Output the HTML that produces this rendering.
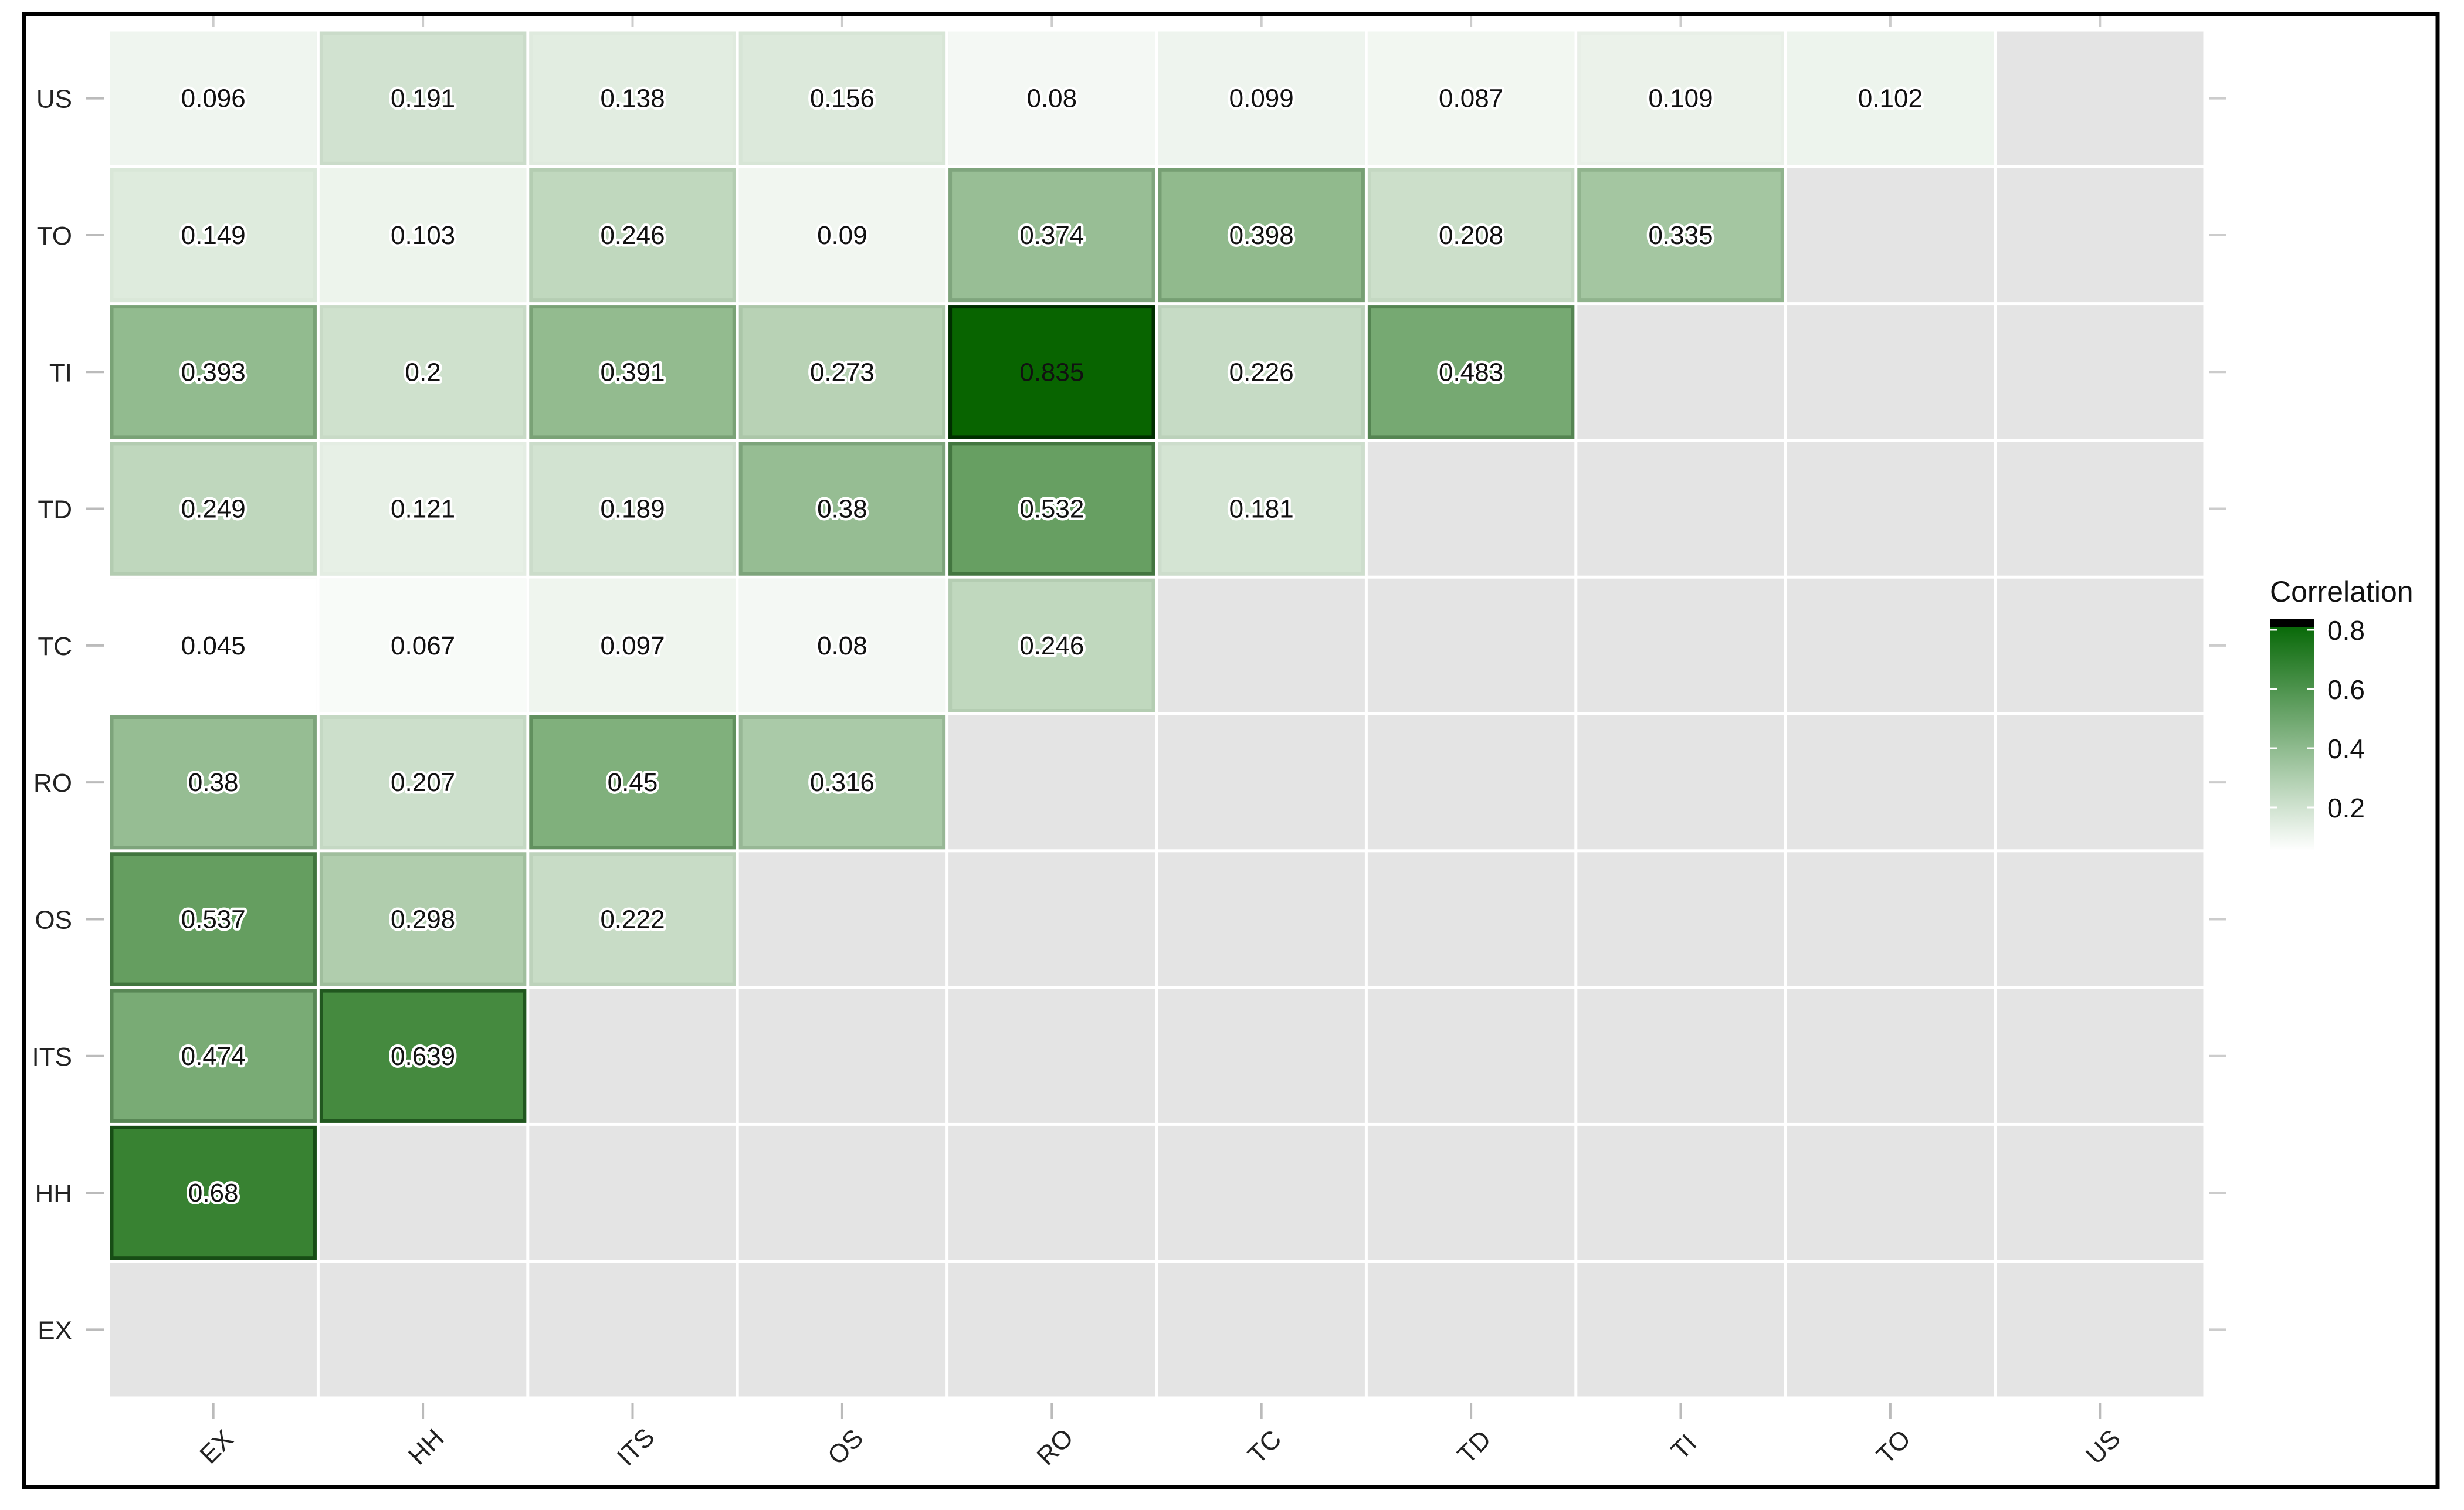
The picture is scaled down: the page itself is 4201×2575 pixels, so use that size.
<!DOCTYPE html>
<html><head><meta charset="utf-8"><style>
html,body{margin:0;padding:0;background:#fff;}
svg{display:block;}
text{font-family:"Liberation Sans",sans-serif;}
</style></head><body>
<svg id="chart" width="4201" height="2575" viewBox="0 0 4201 2575" xmlns="http://www.w3.org/2000/svg">
<defs>
<linearGradient id="lg" x1="0" y1="1" x2="0" y2="0">
<stop offset="0" stop-color="#ffffff"/><stop offset="1" stop-color="#006400"/>
</linearGradient>
</defs>
<rect x="41" y="24" width="4115" height="2512" fill="none" stroke="#000" stroke-width="7"/>
<g id="cells"></g>
<g id="labels"></g>
<g id="axes"></g>
<g id="legend">
<text x="3870" y="1026" font-size="50" fill="#111">Correlation</text>
<rect x="3870" y="1055" width="75" height="396" fill="url(#lg)"/>
<rect x="3870" y="1055" width="75" height="14" fill="#000"/>
<g id="legendTicks"></g>
</g>
</svg>
<script>
const cats = ["EX","HH","ITS","OS","RO","TC","TD","TI","TO","US"];
const rowUS = [0.096,0.191,0.138,0.156,0.08,0.099,0.087,0.109,0.102];
const rowTO = [0.149,0.103,0.246,0.09,0.374,0.398,0.208,0.335];
const rowTI = [0.393,0.2,0.391,0.273,0.835,0.226,0.483];
const rowTD = [0.249,0.121,0.189,0.38,0.532,0.181];
const rowTC = [0.045,0.067,0.097,0.08,0.246];
const rowRO = [0.38,0.207,0.45,0.316];
const rowOS = [0.537,0.298,0.222];
const rowITS = [0.474,0.639];
const rowHH = [0.68];
const rowEX = [];
const legendTicks = [0.2,0.4,0.6,0.8];

const rows = {US:rowUS,TO:rowTO,TI:rowTI,TD:rowTD,TC:rowTC,RO:rowRO,OS:rowOS,ITS:rowITS,HH:rowHH,EX:rowEX};
const NS="http://www.w3.org/2000/svg";
const L=185,R=3759,T=51,B=2384;
const cw=(R-L)/cats.length, ch=(B-T)/cats.length;
const xPos=i=>L+i*cw;
const yPos=j=>B-(j+1)*ch;
const vmin=0.045,vmax=0.835;
function color(v){const t=Math.max(0,Math.min(1,(v-vmin)/(vmax-vmin)));
 const r=Math.round(255*(1-t)+8*t),g=Math.round(255*(1-t)+100*t),b=Math.round(255*(1-t));return `rgb(${r},${g},${b})`;}
function el(tag,attrs,parent){const e=document.createElementNS(NS,tag);for(const k in attrs)e.setAttribute(k,attrs[k]);parent.appendChild(e);return e;}
const gc=document.getElementById('cells'),gl=document.getElementById('labels'),ga=document.getElementById('axes');
for(let i=0;i<cats.length;i++)for(let j=0;j<cats.length;j++){
 const r=el('rect',{x:xPos(i)+2.5,y:yPos(j)+2.5,width:cw-5,height:ch-5,fill:'#e4e4e4'},gc);
 
 
}
cats.forEach((rc,j)=>{
 const vals=rows[rc];
 vals.forEach((v,i)=>{
  const x=xPos(i)+2.5,y=yPos(j)+2.5,w=cw-5,h=ch-5;
  const c=color(v);
  const r=el('rect',{x:x,y:y,width:w,height:h,fill:c},gc);
  
  
  const t=(v-vmin)/(vmax-vmin);
  const s=el('rect',{x:x+3,y:y+3,width:w-6,height:h-6,fill:'none',stroke:'rgba(0,40,0,'+(t*t*0.9).toFixed(2)+')','stroke-width':6},gc);
  
  
  const halo=t<0.85?'#fff':c;
  const tx=el('text',{x:xPos(i)+cw/2,y:yPos(j)+ch/2+15,'text-anchor':'middle','font-size':44,fill:'#111',stroke:halo,'stroke-width':t<0.85?9:0,'stroke-linejoin':'round','paint-order':'stroke'},gl);
  tx.textContent=String(v);
  
  
 });
});
cats.forEach((c,j)=>{
 const cy=yPos(j)+ch/2;
 const t=el('text',{x:123,y:cy+16,'text-anchor':'end','font-size':44,fill:'#222'},ga);
 t.textContent=c;
 
 
 const tk=el('line',{x1:147,x2:178,y1:cy,y2:cy,stroke:'#bbb','stroke-width':4},ga);
 
 
 const tk2=el('line',{x1:3766,x2:3796,y1:cy,y2:cy,stroke:'#ccc','stroke-width':4},ga);
 
 
});
cats.forEach((c,i)=>{
 const cx=xPos(i)+cw/2;
 const tk=el('line',{x1:cx,x2:cx,y1:2392,y2:2420,stroke:'#bbb','stroke-width':4},ga);
 
 
 const tk2=el('line',{x1:cx,x2:cx,y1:28,y2:46,stroke:'#ccc','stroke-width':4},ga);
 
 
 const t=el('text',{x:cx+6,y:2482,'text-anchor':'middle','font-size':44,fill:'#222',transform:`rotate(-45 ${cx+6} 2468)`},ga);
 t.textContent=c;
 
 
});
const lt=document.getElementById('legendTicks');
const ly=v=>1074+(0.8-v)*505;
legendTicks.forEach(v=>{
 const y=ly(v);
 const a=el('line',{x1:3870,x2:3882,y1:y,y2:y,stroke:'#fff','stroke-width':3},lt);
 
 
 const b=el('line',{x1:3933,x2:3945,y1:y,y2:y,stroke:'#fff','stroke-width':3},lt);
 
 
 const t=el('text',{x:3968,y:y+17,'font-size':46,fill:'#111'},lt);
 t.textContent=v.toFixed(1);
 
 
});
</script>
</body></html>
